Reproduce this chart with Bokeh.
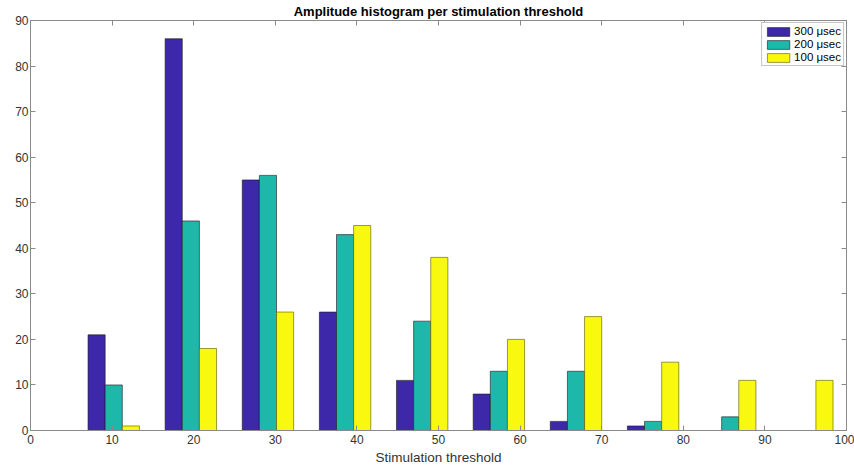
from bokeh.plotting import figure
from bokeh.models import ColumnDataSource, LinearAxis, FixedTicker, Range1d, Legend, LegendItem
from bokeh.transform import dodge
from bokeh.embed import file_html
from bokeh.resources import INLINE

# Data (MATLAB-style hist bins)
bin_centers = [10.2, 19.65, 29.1, 38.55, 48.0, 57.4, 66.85, 76.3, 85.75, 95.2]
counts_300 = [21, 86, 55, 26, 11, 8, 2, 1, 0, 0]
counts_200 = [10, 46, 56, 43, 24, 13, 13, 2, 3, 0]
counts_100 = [1, 18, 26, 45, 38, 20, 25, 15, 11, 11]
series_labels = ["300 \u03bcsec", "200 \u03bcsec", "100 \u03bcsec"]
x_ticks = [0, 10, 20, 30, 40, 50, 60, 70, 80, 90, 100]
y_ticks = [0, 10, 20, 30, 40, 50, 60, 70, 80, 90]

colors = ["#3C28A8", "#1DB8AA", "#F9F90F"]
FONT = "Liberation Sans"
bar_w = 2.1

src = ColumnDataSource(dict(x=bin_centers, s300=counts_300, s200=counts_200, s100=counts_100))

p = figure(width=854, height=468, output_backend="svg", toolbar_location=None,
           x_range=Range1d(0, 100), y_range=Range1d(0, 90),
           min_border_left=30, min_border_right=8, min_border_bottom=38, min_border_top=0,
           title="Amplitude histogram per stimulation threshold")
p.title.align = "center"
p.title.text_font = FONT
p.title.text_font_size = "13px"
p.title.text_font_style = "bold"
p.title.text_color = "#000000"
p.title.offset = 0
p.title.standoff = 3

p.xgrid.visible = False
p.ygrid.visible = False
p.outline_line_color = "#8a8a8a"
p.outline_line_width = 1
p.background_fill_color = "white"
p.border_fill_color = "white"

r1 = p.vbar(x=dodge("x", -bar_w, range=p.x_range), top="s300", width=bar_w, source=src,
            fill_color=colors[0], line_color="#1a1a1a", line_width=0.6)
r2 = p.vbar(x=dodge("x", 0, range=p.x_range), top="s200", width=bar_w, source=src,
            fill_color=colors[1], line_color="#1a1a1a", line_width=0.6)
r3 = p.vbar(x=dodge("x", bar_w, range=p.x_range), top="s100", width=bar_w, source=src,
            fill_color=colors[2], line_color="#555500", line_width=0.6)

def style_axis(ax, labels=True):
    ax.axis_line_color = "#8a8a8a"
    ax.major_tick_line_color = "#8a8a8a"
    ax.major_tick_in = 5
    ax.major_tick_out = 0
    ax.minor_tick_line_color = None
    ax.major_label_text_font = FONT
    ax.major_label_text_font_size = "12px"
    ax.major_label_text_color = "#333333" if labels else None
    ax.major_label_standoff = 4

xa = p.xaxis[0]
xa.ticker = FixedTicker(ticks=x_ticks)
style_axis(xa)
xa.axis_label = "Stimulation threshold"
xa.axis_label_text_font = FONT
xa.axis_label_text_font_size = "13.5px"
xa.axis_label_text_font_style = "normal"
xa.axis_label_text_color = "#333333"
xa.axis_label_standoff = 3

ya = p.yaxis[0]
ya.ticker = FixedTicker(ticks=y_ticks)
style_axis(ya)
ya.major_label_standoff = 2

top_ax = LinearAxis(ticker=FixedTicker(ticks=x_ticks))
style_axis(top_ax, labels=False)
p.add_layout(top_ax, "above")
right_ax = LinearAxis(ticker=FixedTicker(ticks=y_ticks))
style_axis(right_ax, labels=False)
p.add_layout(right_ax, "right")

legend = Legend(items=[LegendItem(label=series_labels[0], renderers=[r1]),
                       LegendItem(label=series_labels[1], renderers=[r2]),
                       LegendItem(label=series_labels[2], renderers=[r3])],
                location="top_right")
legend.margin = 2
legend.padding = 2
legend.spacing = 1
legend.glyph_width = 28
legend.glyph_height = 11
legend.label_standoff = 2
legend.label_height = 11
legend.label_text_font = FONT
legend.label_text_font_size = "11.5px"
legend.label_text_color = "#000000"
legend.border_line_color = "#8a8a8a"
legend.background_fill_alpha = 1
p.add_layout(legend)

open("out.html", "w").write(file_html(p, INLINE))
